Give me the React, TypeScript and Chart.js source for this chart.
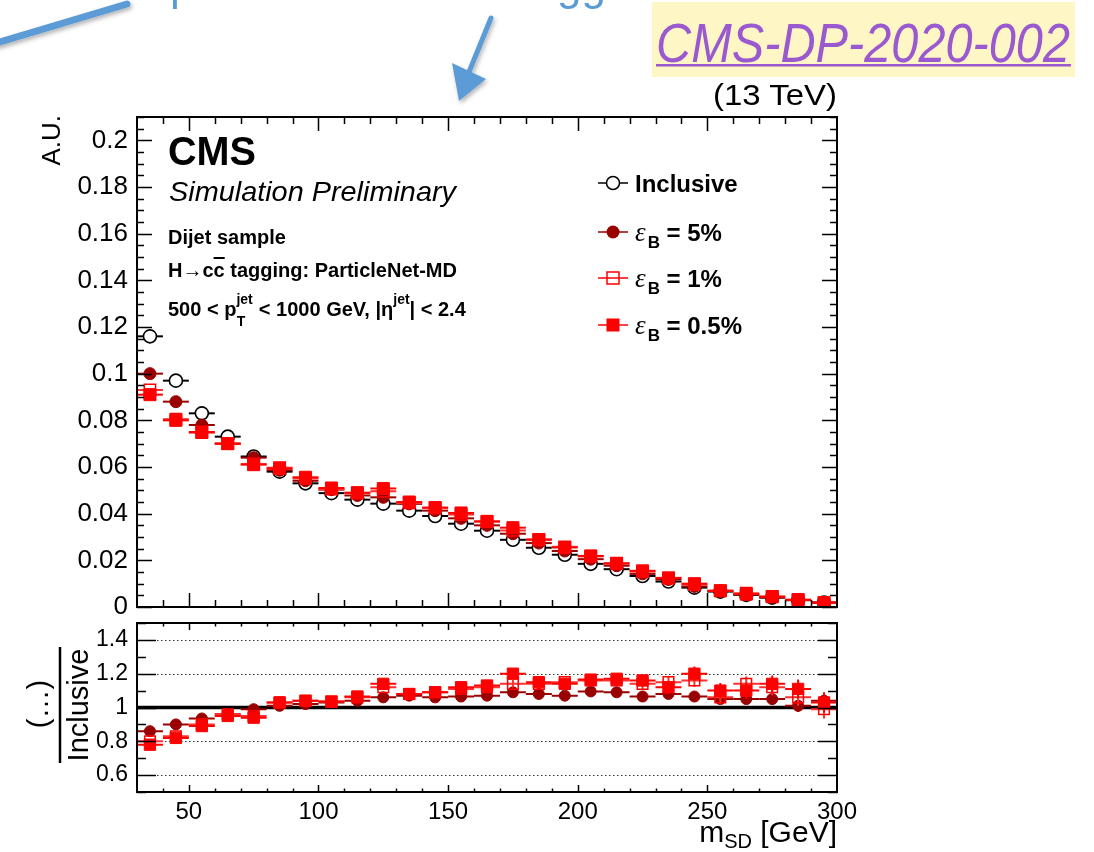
import React, { useEffect, useRef } from "react";
import { Chart, registerables } from "chart.js";

Chart.register(...registerables);

// ---------------- data ----------------
const massCenters = [35, 45, 55, 65, 75, 85, 95, 105, 115, 125, 135, 145, 155, 165, 175, 185, 195, 205, 215, 225, 235, 245, 255, 265, 275, 285, 295];
const binHalfWidth = 5;

const inclusive = [0.116, 0.097, 0.083, 0.073, 0.0645, 0.058, 0.053, 0.0488, 0.046, 0.0443, 0.0413, 0.039, 0.0357, 0.0327, 0.0288, 0.0254, 0.0224, 0.0185, 0.0162, 0.0133, 0.0109, 0.0083, 0.0066, 0.0052, 0.004, 0.0029, 0.0019];
const effB5 = [0.1, 0.088, 0.078, 0.07, 0.064, 0.0586, 0.0541, 0.0503, 0.0478, 0.047, 0.0442, 0.0413, 0.038, 0.035, 0.0314, 0.0274, 0.024, 0.0205, 0.0177, 0.0142, 0.0118, 0.0088, 0.0069, 0.0055, 0.0042, 0.003, 0.002];
const effB1 = [0.093, 0.0805, 0.0747, 0.07, 0.0613, 0.0597, 0.0551, 0.0505, 0.0488, 0.0496, 0.0446, 0.0425, 0.0396, 0.0366, 0.0328, 0.029, 0.0258, 0.0217, 0.0188, 0.0152, 0.0125, 0.0096, 0.007, 0.0059, 0.0045, 0.0031, 0.0019];
const effB05 = [0.091, 0.08, 0.075, 0.07, 0.061, 0.0594, 0.0556, 0.051, 0.049, 0.0508, 0.045, 0.0426, 0.0403, 0.0367, 0.034, 0.0288, 0.0255, 0.0219, 0.0186, 0.0155, 0.0124, 0.01, 0.0069, 0.0055, 0.0044, 0.0031, 0.0018];

const ratioB5 = [0.86, 0.9, 0.935, 0.96, 0.99, 1.01, 1.02, 1.03, 1.04, 1.06, 1.07, 1.06, 1.065, 1.07, 1.09, 1.08, 1.07, 1.095, 1.09, 1.065, 1.08, 1.065, 1.05, 1.05, 1.05, 1.01, 1.04];
const ratioB1 = [0.8, 0.83, 0.9, 0.96, 0.95, 1.03, 1.04, 1.035, 1.06, 1.12, 1.08, 1.09, 1.11, 1.12, 1.14, 1.14, 1.15, 1.16, 1.16, 1.14, 1.15, 1.16, 1.06, 1.14, 1.12, 1.06, 0.99];
const ratioB05 = [0.78, 0.82, 0.89, 0.95, 0.94, 1.03, 1.04, 1.035, 1.065, 1.14, 1.08, 1.09, 1.12, 1.13, 1.2, 1.15, 1.14, 1.165, 1.17, 1.16, 1.12, 1.2, 1.1, 1.1, 1.14, 1.11, 1.03];

const ratioErrB5 = [0.008, 0.008, 0.008, 0.008, 0.008, 0.009, 0.009, 0.01, 0.01, 0.011, 0.011, 0.012, 0.013, 0.014, 0.015, 0.016, 0.017, 0.019, 0.02, 0.022, 0.024, 0.026, 0.028, 0.03, 0.033, 0.036, 0.04];
const ratioErrB1 = [0.012, 0.012, 0.012, 0.012, 0.012, 0.013, 0.013, 0.014, 0.015, 0.016, 0.017, 0.018, 0.019, 0.02, 0.022, 0.024, 0.026, 0.028, 0.03, 0.032, 0.035, 0.038, 0.041, 0.044, 0.047, 0.05, 0.055];
const ratioErrB05 = [0.014, 0.014, 0.014, 0.014, 0.014, 0.015, 0.015, 0.016, 0.017, 0.018, 0.019, 0.02, 0.021, 0.022, 0.024, 0.026, 0.028, 0.03, 0.032, 0.035, 0.038, 0.042, 0.045, 0.048, 0.05, 0.055, 0.06];

const mainYTicks = [0, 0.02, 0.04, 0.06, 0.08, 0.1, 0.12, 0.14, 0.16, 0.18, 0.2];
const ratioYTicks = [0.6, 0.8, 1, 1.2, 1.4];
const ratioGridLines = [0.6, 0.8, 1.2, 1.4];
const xTicks = [50, 100, 150, 200, 250, 300];

// ---------------- style ----------------
const W = 1094;
const H = 852;
const FONT = "'Liberation Sans', Arial, Helvetica, sans-serif";
const DARK_RED = "#990000";
const RED = "#ff0000";
const BLUE = "#5B9BD5";
const PURPLE = "#9b59d0";

function fmtTick(v: any) {
  return String(parseFloat(Number(v).toFixed(3)));
}

type RootCfg = {
  xMin: number; xMax: number; xMinorStep: number; xMajorStep: number; xMajorLen: number; xMinorLen: number;
  yMin: number; yMax: number; yMinorStep: number; yMajorStep: number; yMajorLen: number; yMinorLen: number;
  dotted?: number[]; refLine?: number;
};

function isMultiple(v: number, step: number) {
  const r = v / step;
  return Math.abs(r - Math.round(r)) < 1e-6;
}

function makeRootPlugin(cfg: RootCfg) {
  return {
    id: "rootStyle",
    beforeDatasetsDraw(chart: any) {
      const { ctx, chartArea: a, scales } = chart;
      const ys = scales.y;
      ctx.save();
      if (cfg.dotted) {
        ctx.setLineDash([1.5, 2.5]);
        ctx.strokeStyle = "#333";
        ctx.lineWidth = 1.2;
        cfg.dotted.forEach((v) => {
          const py = Math.round(ys.getPixelForValue(v)) + 0.5;
          ctx.beginPath();
          ctx.moveTo(a.left, py);
          ctx.lineTo(a.right, py);
          ctx.stroke();
        });
        ctx.setLineDash([]);
      }
      if (cfg.refLine != null) {
        const py = ys.getPixelForValue(cfg.refLine);
        ctx.strokeStyle = "#000";
        ctx.lineWidth = 3.5;
        ctx.beginPath();
        ctx.moveTo(a.left, py);
        ctx.lineTo(a.right, py);
        ctx.stroke();
      }
      ctx.restore();
    },
    beforeDatasetDraw(chart: any, args: any) {
      const { ctx, chartArea: a, scales } = chart;
      const ds = chart.data.datasets[args.index];
      const meta = args.meta;
      const xs = scales.x;
      const ys = scales.y;
      ctx.save();
      ctx.beginPath();
      ctx.rect(a.left, a.top, a.right - a.left, a.bottom - a.top);
      ctx.clip();
      ctx.strokeStyle = ds.errColor;
      ctx.lineWidth = ds.errWidth || 2;
      meta.data.forEach((pt: any, i: number) => {
        const raw = ds.data[i];
        const x0 = xs.getPixelForValue(raw.x - binHalfWidth);
        const x1 = xs.getPixelForValue(raw.x + binHalfWidth);
        ctx.beginPath();
        ctx.moveTo(x0, pt.y);
        ctx.lineTo(x1, pt.y);
        if (ds.yErr) {
          const e = ds.yErr[i];
          ctx.moveTo(pt.x, ys.getPixelForValue(raw.y + e));
          ctx.lineTo(pt.x, ys.getPixelForValue(raw.y - e));
        }
        ctx.stroke();
      });
      ctx.restore();
    },
    afterDatasetsDraw(chart: any) {
      const { ctx, chartArea: a, scales } = chart;
      const xs = scales.x;
      const ys = scales.y;
      ctx.save();
      ctx.strokeStyle = "#000";
      ctx.lineWidth = 1.5;
      const nx = Math.round((cfg.xMax - cfg.xMin) / cfg.xMinorStep);
      for (let i = 1; i < nx; i++) {
        const v = cfg.xMin + i * cfg.xMinorStep;
        const len = isMultiple(v, cfg.xMajorStep) ? cfg.xMajorLen : cfg.xMinorLen;
        const px = Math.round(xs.getPixelForValue(v)) + 0.5;
        ctx.beginPath();
        ctx.moveTo(px, a.bottom);
        ctx.lineTo(px, a.bottom - len);
        ctx.moveTo(px, a.top);
        ctx.lineTo(px, a.top + len);
        ctx.stroke();
      }
      const ny = Math.round((cfg.yMax - cfg.yMin) / cfg.yMinorStep);
      for (let i = 0; i <= ny; i++) {
        const v = cfg.yMin + i * cfg.yMinorStep;
        if (v > cfg.yMax + 1e-9) break;
        const len = isMultiple(v, cfg.yMajorStep) ? cfg.yMajorLen : cfg.yMinorLen;
        const py = Math.round(ys.getPixelForValue(v)) + 0.5;
        ctx.beginPath();
        ctx.moveTo(a.left, py);
        ctx.lineTo(a.left + len, py);
        ctx.moveTo(a.right, py);
        ctx.lineTo(a.right - len, py);
        ctx.stroke();
      }
      ctx.lineWidth = 2;
      ctx.strokeRect(a.left, a.top, a.right - a.left, a.bottom - a.top);
      ctx.restore();
    },
  };
}

function pts(vals: number[]) {
  return massCenters.map((x, i) => ({ x, y: vals[i] }));
}

export default function App() {
  const mainRef = useRef<HTMLCanvasElement>(null);
  const ratioRef = useRef<HTMLCanvasElement>(null);

  useEffect(() => {
    const mainChart = new Chart(mainRef.current as HTMLCanvasElement, {
      type: "scatter",
      data: {
        datasets: [
          { label: "Inclusive", data: pts(inclusive), pointStyle: "circle", pointRadius: 6.5, backgroundColor: "#ffffff", borderColor: "#000000", borderWidth: 1.6, order: 4, errColor: "#000000" } as any,
          { label: "eB = 5%", data: pts(effB5), pointStyle: "circle", pointRadius: 6, backgroundColor: DARK_RED, borderColor: DARK_RED, borderWidth: 1, order: 3, errColor: DARK_RED } as any,
          { label: "eB = 1%", data: pts(effB1), pointStyle: "rect", pointRadius: 8, backgroundColor: "rgba(0,0,0,0)", borderColor: RED, borderWidth: 1.5, order: 2, errColor: "#ff3030" } as any,
          { label: "eB = 0.5%", data: pts(effB05), pointStyle: "rect", pointRadius: 8.5, backgroundColor: RED, borderColor: RED, borderWidth: 1, order: 1, errColor: RED } as any,
        ],
      },
      options: {
        animation: false,
        responsive: false,
        maintainAspectRatio: false,
        layout: { padding: { left: 0, right: W - 837, top: 117, bottom: H - 607 } },
        plugins: { legend: { display: false }, tooltip: { enabled: false } },
        scales: {
          x: { type: "linear", min: 30, max: 300, display: false },
          y: {
            type: "linear",
            min: 0,
            max: 0.21,
            afterBuildTicks: (s: any) => { s.ticks = mainYTicks.map((v) => ({ value: v })); },
            afterFit: (s: any) => { s.width = 137; },
            ticks: { font: { family: FONT, size: 26 }, color: "#000", padding: 9, callback: (v: any) => fmtTick(v) },
            grid: { display: false, drawTicks: false, tickLength: 0 },
            border: { display: false },
          },
        },
      } as any,
      plugins: [makeRootPlugin({ xMin: 30, xMax: 300, xMinorStep: 10, xMajorStep: 50, xMajorLen: 14, xMinorLen: 7, yMin: 0, yMax: 0.21, yMinorStep: 0.005, yMajorStep: 0.02, yMajorLen: 15, yMinorLen: 7 })],
    });

    const ratioChart = new Chart(ratioRef.current as HTMLCanvasElement, {
      type: "scatter",
      data: {
        datasets: [
          { label: "eB = 5%", data: pts(ratioB5), pointStyle: "circle", pointRadius: 5.5, backgroundColor: DARK_RED, borderColor: DARK_RED, borderWidth: 1, order: 3, errColor: DARK_RED, yErr: ratioErrB5 } as any,
          { label: "eB = 1%", data: pts(ratioB1), pointStyle: "rect", pointRadius: 7.5, backgroundColor: "rgba(0,0,0,0)", borderColor: RED, borderWidth: 1.5, order: 2, errColor: "#ff3030", yErr: ratioErrB1 } as any,
          { label: "eB = 0.5%", data: pts(ratioB05), pointStyle: "rect", pointRadius: 8, backgroundColor: RED, borderColor: RED, borderWidth: 1, order: 1, errColor: RED, yErr: ratioErrB05 } as any,
        ],
      },
      options: {
        animation: false,
        responsive: false,
        maintainAspectRatio: false,
        layout: { padding: { left: 0, right: W - 837, top: 623, bottom: 0 } },
        plugins: { legend: { display: false }, tooltip: { enabled: false } },
        scales: {
          x: {
            type: "linear",
            min: 30,
            max: 300,
            afterBuildTicks: (s: any) => { s.ticks = xTicks.map((v) => ({ value: v })); },
            afterFit: (s: any) => { s.height = H - 792; },
            ticks: { font: { family: FONT, size: 24 }, color: "#000", padding: 6, maxRotation: 0, autoSkip: false, callback: (v: any) => fmtTick(v) },
            grid: { display: false, drawTicks: false, tickLength: 0 },
            border: { display: false },
          },
          y: {
            type: "linear",
            min: 0.5,
            max: 1.5,
            afterBuildTicks: (s: any) => { s.ticks = ratioYTicks.map((v) => ({ value: v })); },
            afterFit: (s: any) => { s.width = 137; },
            ticks: { font: { family: FONT, size: 23 }, color: "#000", padding: 9, callback: (v: any) => fmtTick(v) },
            grid: { display: false, drawTicks: false, tickLength: 0 },
            border: { display: false },
          },
        },
      } as any,
      plugins: [makeRootPlugin({ xMin: 30, xMax: 300, xMinorStep: 10, xMajorStep: 50, xMajorLen: 7, xMinorLen: 3.5, yMin: 0.5, yMax: 1.5, yMinorStep: 0.1, yMajorStep: 0.2, yMajorLen: 19, yMinorLen: 9, dotted: ratioGridLines, refLine: 1 })],
    });

    return () => {
      mainChart.destroy();
      ratioChart.destroy();
    };
  }, []);

  const legendItems = [
    { cy: 183, kind: "openCircle", color: "#000" },
    { cy: 232, kind: "filledCircle", color: DARK_RED, label: "5%" },
    { cy: 278, kind: "openSquare", color: RED, label: "1%" },
    { cy: 325, kind: "filledSquare", color: RED, label: "0.5%" },
  ];

  return (
    <div style={{ position: "fixed", left: 0, top: 0, width: W, height: H, background: "#ffffff", overflow: "hidden" }}>
      <canvas ref={mainRef} width={W} height={H} style={{ position: "absolute", left: 0, top: 0, width: W, height: H }} />
      <canvas ref={ratioRef} width={W} height={H} style={{ position: "absolute", left: 0, top: 0, width: W, height: H }} />
      <svg width={W} height={H} style={{ position: "absolute", left: 0, top: 0, pointerEvents: "none" }} fontFamily={FONT}>
        <defs>
          <filter id="sh" x="-30%" y="-30%" width="160%" height="160%">
            <feDropShadow dx="1.5" dy="2.5" stdDeviation="2" floodColor="#000" floodOpacity="0.3" />
          </filter>
        </defs>
        {/* slide decorations */}
        <line x1={-10} y1={45} x2={127} y2={4} stroke={BLUE} strokeWidth={7} strokeLinecap="round" filter="url(#sh)" />
        <g filter="url(#sh)">
          <line x1={491} y1={18} x2={469} y2={72} stroke={BLUE} strokeWidth={5} strokeLinecap="round" />
          <polygon points="452,63 486,79 459,101" fill={BLUE} />
        </g>
        <text x={170} y={0} fontSize={44} fill={BLUE}>p</text>
        <text x={557} y={0} fontSize={44} fill={BLUE}>gg</text>
        <rect x={652} y={2} width={423} height={75} fill="#fff6c6" />
        <text x={656} y={62} fontSize={56} fontStyle="italic" fill={PURPLE} textLength={414} lengthAdjust="spacingAndGlyphs">CMS-DP-2020-002</text>
        <rect x={656} y={64} width={415} height={2.5} fill={PURPLE} />
        <text x={713} y={105} fontSize={29} fill="#000" textLength={124} lengthAdjust="spacingAndGlyphs">(13 TeV)</text>

        {/* CMS labels */}
        <text x={168} y={165} fontSize={41} fontWeight="bold" fill="#000" textLength={88} lengthAdjust="spacingAndGlyphs">CMS</text>
        <text x={169} y={201} fontSize={28} fontStyle="italic" fill="#000" textLength={287} lengthAdjust="spacingAndGlyphs">Simulation Preliminary</text>
        <text x={168} y={244} fontSize={20} fontWeight="bold" fill="#000">Dijet sample</text>
        <text x={168} y={277} fontSize={20} fontWeight="bold" fill="#000">H→c<tspan textDecoration="overline">c</tspan> tagging: ParticleNet-MD</text>
        <text x={168} y={316} fontSize={20} fontWeight="bold" fill="#000">
          500 &lt; p
          <tspan dy={-12} fontSize={14}>jet</tspan>
          <tspan dx={-16} dy={22} fontSize={14}>T</tspan>
          <tspan dx={8} dy={-10} fontSize={20}> &lt; 1000 GeV, |η</tspan>
          <tspan dy={-12} fontSize={14}>jet</tspan>
          <tspan dy={12} fontSize={20}>| &lt; 2.4</tspan>
        </text>

        {/* legend */}
        {legendItems.map((it, i) => (
          <g key={i}>
            <line x1={598} y1={it.cy} x2={628} y2={it.cy} stroke={it.color} strokeWidth={1.5} />
            {it.kind === "openCircle" && <circle cx={613} cy={it.cy} r={6.5} fill="#fff" stroke="#000" strokeWidth={1.5} />}
            {it.kind === "filledCircle" && <circle cx={613} cy={it.cy} r={6.5} fill={it.color} />}
            {it.kind === "openSquare" && <rect x={607} y={it.cy - 6} width={12} height={12} fill="none" stroke={it.color} strokeWidth={1.5} />}
            {it.kind === "filledSquare" && <rect x={606.5} y={it.cy - 6.5} width={13} height={13} fill={it.color} />}
            {it.kind === "openCircle" ? (
              <text x={635} y={it.cy + 9} fontSize={24} fontWeight="bold" fill="#000">Inclusive</text>
            ) : (
              <text x={635} y={it.cy + 9} fontSize={24} fontWeight="bold" fill="#000">
                <tspan fontFamily="'Liberation Serif', serif" fontStyle="italic" fontWeight="normal" fontSize={27}>ε</tspan>
                <tspan dx={2} dy={7} fontSize={17}>B</tspan>
                <tspan dy={-7} fontSize={24}>{" = " + it.label}</tspan>
              </text>
            )}
          </g>
        ))}

        {/* axis titles */}
        <text transform="translate(60,115) rotate(-90)" textAnchor="end" fontSize={26} fill="#000">A.U.</text>
        <text transform="translate(48,704) rotate(-90)" textAnchor="middle" fontSize={29} fill="#000">(…)</text>
        <line x1={60} y1={647} x2={60} y2={763} stroke="#000" strokeWidth={2.5} />
        <text transform="translate(88,705) rotate(-90)" textAnchor="middle" fontSize={29} fill="#000">Inclusive</text>
        <text x={837} y={842} textAnchor="end" fontSize={30} fill="#000">
          m<tspan dy={6} fontSize={20}>SD</tspan><tspan dy={-6} fontSize={30}> [GeV]</tspan>
        </text>
      </svg>
    </div>
  );
}
